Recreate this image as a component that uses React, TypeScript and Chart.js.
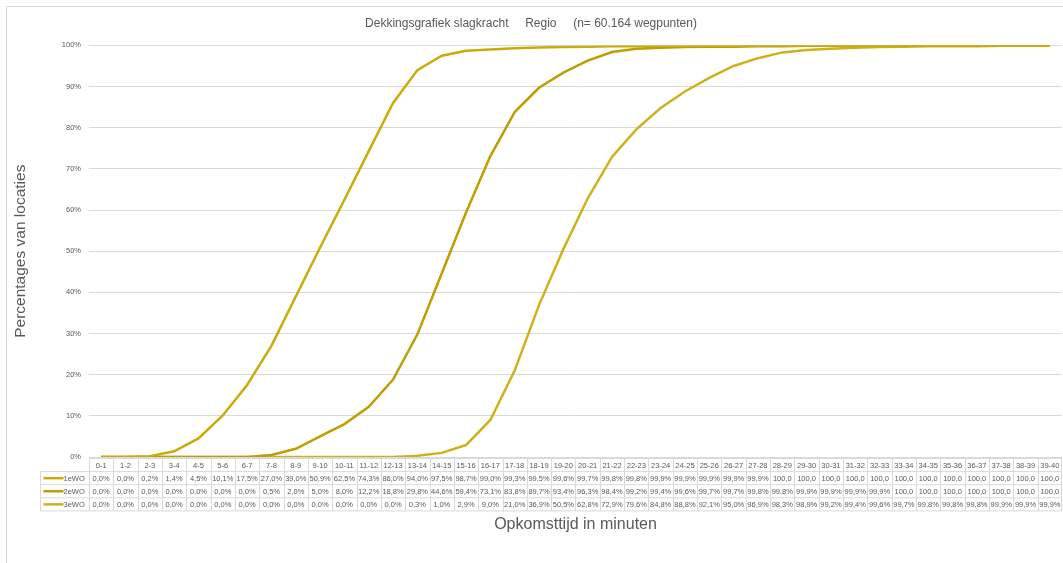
import React, { useEffect, useRef } from "react";
import { Chart, registerables } from "chart.js";

Chart.register(...registerables);

const categories = [
  "0-1", "1-2", "2-3", "3-4", "4-5", "5-6", "6-7", "7-8", "8-9", "9-10",
  "10-11", "11-12", "12-13", "13-14", "14-15", "15-16", "16-17", "17-18", "18-19", "19-20",
  "20-21", "21-22", "22-23", "23-24", "24-25", "25-26", "26-27", "27-28", "28-29", "29-30",
  "30-31", "31-32", "32-33", "33-34", "34-35", "35-36", "36-37", "37-38", "38-39", "39-40",
];

const seriesNames = ["1eWO", "2eWO", "3eWO"];

const wo1 = [
  0.0, 0.0, 0.2, 1.4, 4.5, 10.1, 17.5, 27.0, 39.0, 50.9,
  62.5, 74.3, 86.0, 94.0, 97.5, 98.7, 99.0, 99.3, 99.5, 99.6,
  99.7, 99.8, 99.8, 99.9, 99.9, 99.9, 99.9, 99.9, 100, 100,
  100, 100, 100, 100, 100, 100, 100, 100, 100, 100,
];

const wo2 = [
  0.0, 0.0, 0.0, 0.0, 0.0, 0.0, 0.0, 0.5, 2.0, 5.0,
  8.0, 12.2, 18.8, 29.8, 44.6, 59.4, 73.1, 83.8, 89.7, 93.4,
  96.3, 98.4, 99.2, 99.4, 99.6, 99.7, 99.7, 99.8, 99.8, 99.9,
  99.9, 99.9, 99.9, 100, 100, 100, 100, 100, 100, 100,
];

const wo3 = [
  0.0, 0.0, 0.0, 0.0, 0.0, 0.0, 0.0, 0.0, 0.0, 0.0,
  0.0, 0.0, 0.0, 0.3, 1.0, 2.9, 9.0, 21.0, 36.9, 50.5,
  62.8, 72.9, 79.6, 84.8, 88.8, 92.1, 95.0, 96.9, 98.3, 98.9,
  99.2, 99.4, 99.6, 99.7, 99.8, 99.8, 99.8, 99.9, 99.9, 99.9,
];

const yTicks = [0, 10, 20, 30, 40, 50, 60, 70, 80, 90, 100];

const colors = ["#C8AC0A", "#BE9F02", "#CDB21C"];

const titleText = "Dekkingsgrafiek slagkracht     Regio     (n= 60.164 wegpunten)";
const xTitle = "Opkomsttijd in minuten";
const yTitle = "Percentages van locaties";

const FONT = "'Liberation Sans', Arial, sans-serif";
const TEXT = "#595959";
const GRID = "#D9D9D9";

function fmt(v: number): string {
  const s = v.toFixed(1).replace(".", ",");
  return v >= 100 ? s : s + "%";
}

const framePlugin = {
  id: "frame",
  beforeDraw(chart: any) {
    const ctx = chart.ctx;
    ctx.save();
    ctx.fillStyle = "#ffffff";
    ctx.fillRect(0, 0, chart.width, chart.height);
    ctx.strokeStyle = GRID;
    ctx.lineWidth = 1;
    ctx.strokeRect(6.5, 6.5, chart.width + 10, chart.height + 10);
    ctx.restore();
  },
};

const tablePlugin = {
  id: "dataTable",
  afterDraw(chart: any) {
    const ctx = chart.ctx;
    const x = chart.scales.x;
    const area = chart.chartArea;
    const n = categories.length;
    const colW = (x.right - x.left) / n;
    const top = Math.round(area.bottom) + 1.5;
    const rowH = 13.1;
    const labelLeft = 40.5;
    const rows = chart.data.datasets;
    const bottom = top + rowH * (rows.length + 1);

    ctx.save();
    ctx.strokeStyle = GRID;
    ctx.lineWidth = 1;
    ctx.beginPath();
    ctx.moveTo(x.left, top);
    ctx.lineTo(x.right, top);
    for (let r = 1; r <= rows.length + 1; r++) {
      const y = top + rowH * r;
      ctx.moveTo(labelLeft, y);
      ctx.lineTo(x.right, y);
    }
    ctx.moveTo(labelLeft, top + rowH);
    ctx.lineTo(labelLeft, bottom);
    for (let i = 0; i <= n; i++) {
      const cx = Math.round(x.getPixelForValue(i) - colW / 2) + 0.5;
      const xx = i === n ? Math.round(x.right) - 0.5 : cx;
      ctx.moveTo(xx, top);
      ctx.lineTo(xx, bottom);
    }
    ctx.stroke();

    ctx.fillStyle = TEXT;
    ctx.font = `7.5px ${FONT}`;
    ctx.textAlign = "center";
    ctx.textBaseline = "middle";
    for (let i = 0; i < n; i++) {
      const cx = x.getPixelForValue(i);
      ctx.fillText(categories[i], cx, top + rowH / 2 + 0.5);
      rows.forEach((ds: any, r: number) => {
        ctx.fillText(fmt(ds.data[i]), cx, top + rowH * (r + 1) + rowH / 2 + 0.5);
      });
    }

    rows.forEach((ds: any, r: number) => {
      const cy = top + rowH * (r + 1) + rowH / 2;
      ctx.strokeStyle = ds.borderColor;
      ctx.lineWidth = 2.5;
      ctx.beginPath();
      ctx.moveTo(labelLeft + 3, cy);
      ctx.lineTo(labelLeft + 23, cy);
      ctx.stroke();
      ctx.fillStyle = TEXT;
      ctx.textAlign = "left";
      ctx.fillText(ds.label, labelLeft + 23, cy + 0.5);
    });
    ctx.restore();
  },
};

export default function App() {
  const ref = useRef<HTMLCanvasElement | null>(null);

  useEffect(() => {
    if (!ref.current) return;
    const series = [wo1, wo2, wo3];
    const chart = new Chart(ref.current, {
      type: "line",
      data: {
        labels: categories,
        datasets: seriesNames.map((name, i) => ({
          label: name,
          data: series[i],
          borderColor: colors[i],
          backgroundColor: colors[i],
          borderWidth: 2.5,
          pointRadius: 0,
          pointHoverRadius: 0,
          tension: 0,
          fill: false,
        })),
      },
      options: {
        responsive: false,
        animation: false,
        devicePixelRatio: 1,
        layout: { padding: { left: 0, right: 1, top: 0, bottom: 0 } },
        plugins: {
          legend: { display: false },
          tooltip: { enabled: false },
          title: {
            display: true,
            text: titleText,
            color: TEXT,
            font: { family: FONT, size: 12, weight: "normal" },
            padding: { top: 16, bottom: 15 },
          },
        },
        scales: {
          x: {
            type: "category",
            offset: true,
            grid: { display: false },
            border: { display: false },
            ticks: { display: false },
            title: {
              display: true,
              text: xTitle,
              color: TEXT,
              font: { family: FONT, size: 16 },
              padding: { top: 0, bottom: 29 },
            },
            afterFit: (s: any) => {
              s.height = 106;
            },
          },
          y: {
            min: 0,
            max: 100,
            afterBuildTicks: (s: any) => {
              s.ticks = yTicks.map((v) => ({ value: v }));
            },
            grid: { color: GRID, lineWidth: 1, drawTicks: false },
            border: { display: false },
            ticks: {
              color: TEXT,
              font: { family: FONT, size: 7.5 },
              padding: 8,
              callback: (v: any) => `${v}%`,
            },
            title: {
              display: true,
              text: yTitle,
              color: TEXT,
              font: { family: FONT, size: 15.5 },
              padding: { top: 11, bottom: 0 },
            },
            afterFit: (s: any) => {
              s.width = 89;
            },
          },
        },
      },
      plugins: [framePlugin, tablePlugin],
    });
    return () => chart.destroy();
  }, []);

  return (
    <div style={{ position: "absolute", left: 0, top: 0, width: 1063, height: 563 }}>
      <canvas ref={ref} width={1063} height={563} />
    </div>
  );
}
